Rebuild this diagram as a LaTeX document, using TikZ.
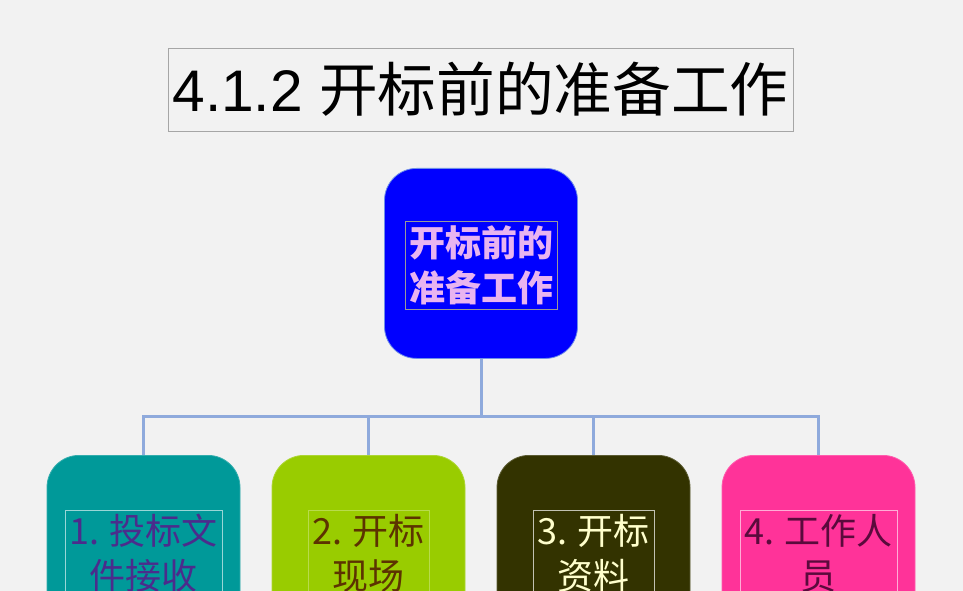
\documentclass[tikz,border=0pt]{standalone}
\usepackage{fontspec}
\setmainfont{Liberation Sans}
\newfontfamily\cjk{Noto Sans CJK SC}
\usetikzlibrary{positioning}

\definecolor{pagebg}{HTML}{F2F2F2}
\definecolor{titleedge}{HTML}{A6A6A6}
\definecolor{linkblue}{HTML}{8FAADC}
\definecolor{topblue}{HTML}{0000FF}
\definecolor{topedge}{HTML}{6F8FE8}
\definecolor{toptext}{HTML}{E8B4F0}
\definecolor{tealbox}{HTML}{009999}
\definecolor{tealtext}{HTML}{4B2C8C}
\definecolor{limebox}{HTML}{99CC00}
\definecolor{limetext}{HTML}{5C3300}
\definecolor{olivebox}{HTML}{333300}
\definecolor{olivetext}{HTML}{FFFFCC}
\definecolor{pinkbox}{HTML}{FF3399}
\definecolor{pinktext}{HTML}{5A0A3C}

\tikzset{
  box/.style={rounded corners=24pt, minimum width=144.75pt, minimum height=142.5pt, anchor=north, line width=0.6pt},
  textframe/.style={draw, line width=0.3pt, inner sep=3pt, align=center, anchor=north, font=\cjk\fontsize{27}{34}\selectfont},
  link/.style={draw=linkblue, line width=2.25pt}
}

\begin{document}
\begin{tikzpicture}[x=0.75pt,y=-0.75pt]

\useasboundingbox (0,0) rectangle (963,591);
\clip (0,0) rectangle (963,591);
\fill[pagebg] (0,0) rectangle (963,591);

\node[draw=titleedge, line width=0.6pt, minimum width=468.75pt, minimum height=62.25pt, font=\fontsize{44}{50}\selectfont] (title) at (480.5,89.5) {4.1.2 {\cjk 开标前的准备工作}};

\node[box, fill=topblue, draw=topedge] (prep) at (481,168) {};

\node[textframe, draw=gray!80, text=toptext, font=\cjk\bfseries\fontsize{27}{34}\selectfont, below=40pt of prep.north] (preptext) {开标前的\\准备工作};

\node[box, fill=tealbox, draw=tealbox!80!white] (receive) at (143.5,455) {};

\node[box, fill=limebox, draw=limebox!80!white] (site) at (368.5,455) {};

\node[box, fill=olivebox, draw=olivebox!80!white] (docs) at (593.5,455) {};

\node[box, fill=pinkbox, draw=pinkbox!80!white] (staff) at (818.5,455) {};

\node[textframe, draw=tealbox!40!white, text=tealtext, below=41pt of receive.north] (receivetext) {1. 投标文\\件接收};

\node[textframe, draw=limebox!70!white, text=limetext, below=41pt of site.north] (sitetext) {2. 开标\\现场};

\node[textframe, draw=olivebox!30!white, text=olivetext, below=41pt of docs.north] (docstext) {3. 开标\\资料};

\node[textframe, draw=pinkbox!40!white, text=pinktext, below=41pt of staff.north] (stafftext) {4. 工作人\\员};

\coordinate (bus) at (481,416);

\draw[link] (prep.south) -- (bus) -| (receive.north);

\draw[link] (bus) -| (site.north);

\draw[link] (bus) -| (docs.north);

\draw[link] (bus) -| (staff.north);

\end{tikzpicture}
\end{document}
